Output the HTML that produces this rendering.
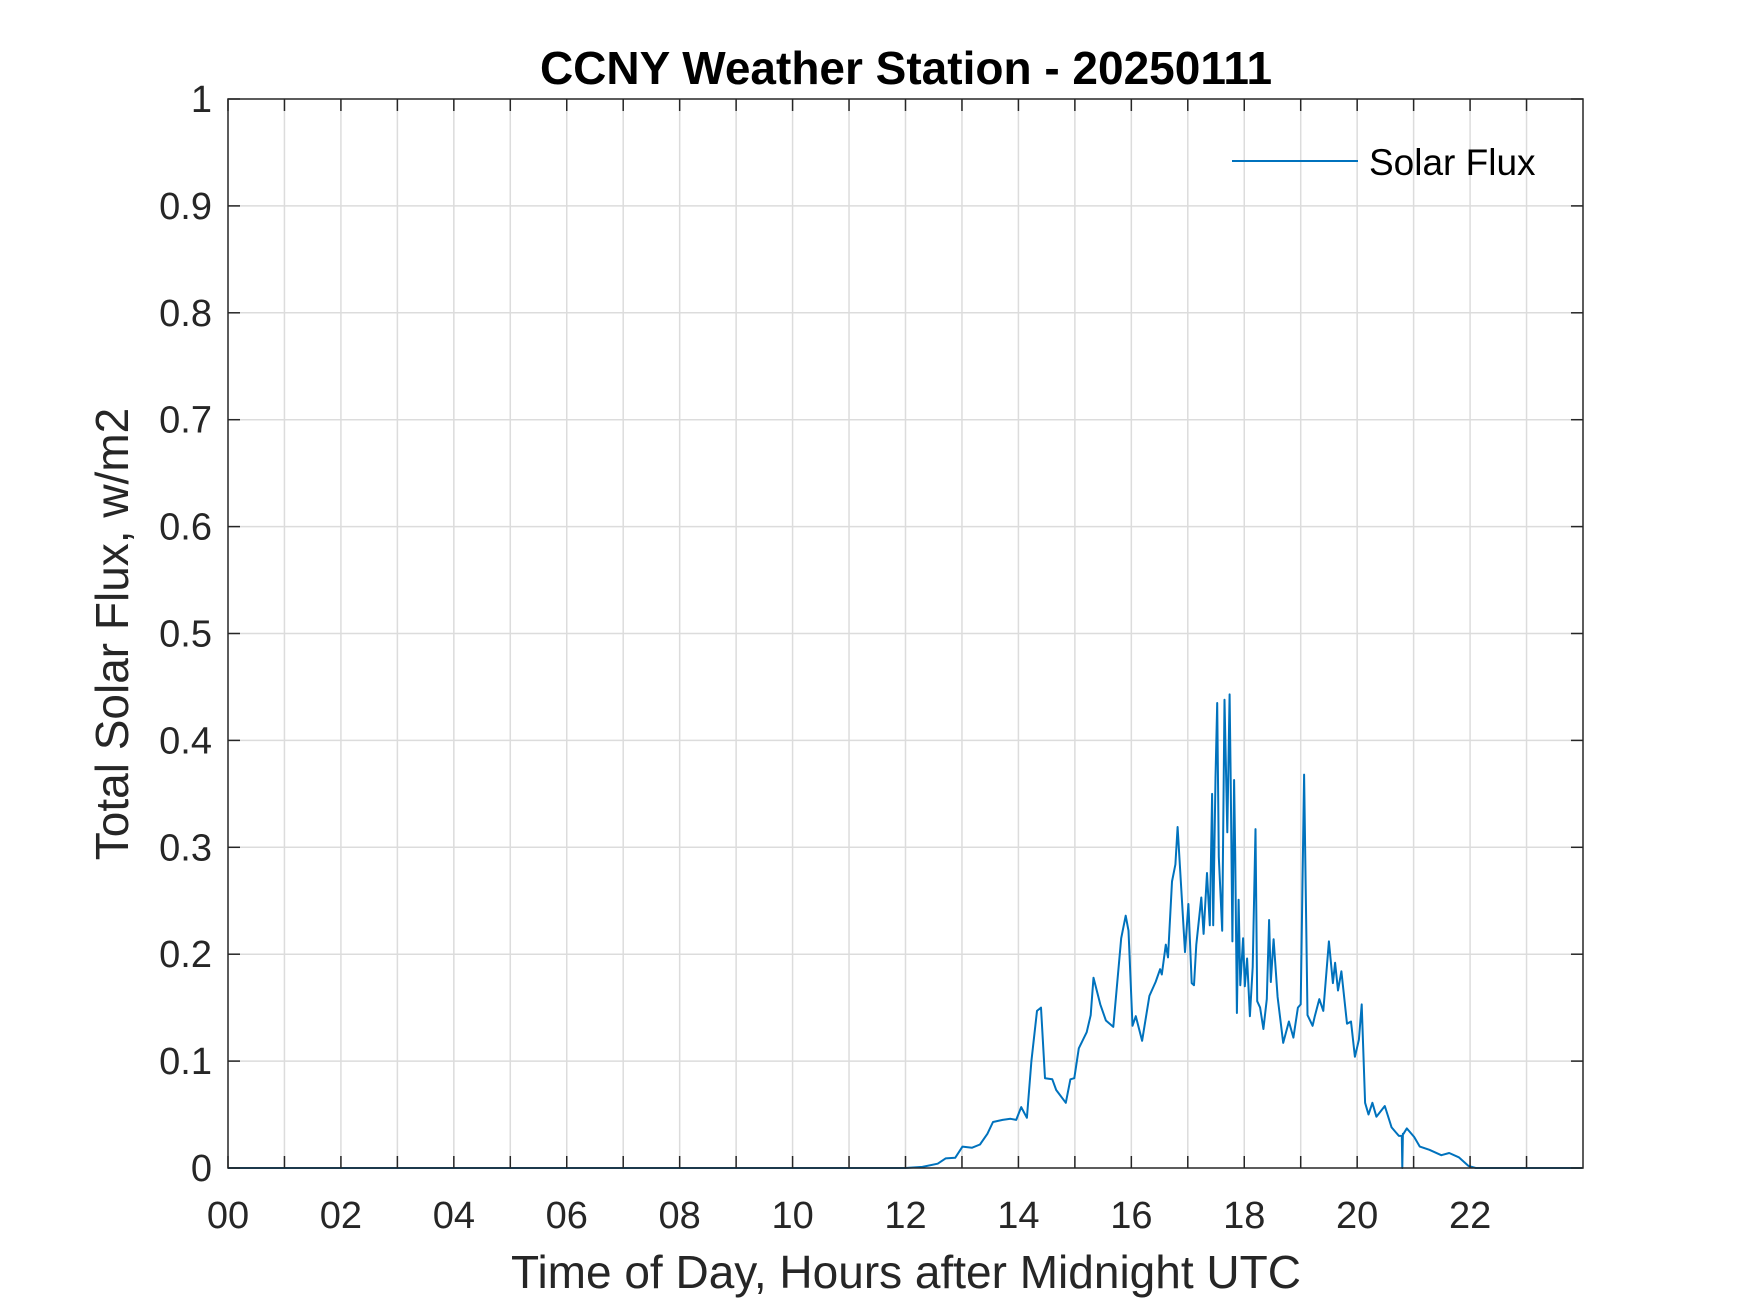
<!DOCTYPE html>
<html><head><meta charset="utf-8"><style>
html,body{margin:0;padding:0;background:#fff;}
svg{display:block;font-family:"Liberation Sans",Arial,sans-serif;}
</style></head><body>
<svg id="chart" width="1750" height="1313" viewBox="0 0 1750 1313" xmlns="http://www.w3.org/2000/svg">
<rect x="0" y="0" width="1750" height="1313" fill="#fff"/>
<g id="grid"></g>
<g id="series"></g>
<g id="axes"></g>
<text x="906" y="84" text-anchor="middle" font-size="46" font-weight="bold" fill="#000">CCNY Weather Station - 20250111</text>
<text x="906" y="1288" text-anchor="middle" font-size="46" fill="#262626">Time of Day, Hours after Midnight UTC</text>
<text transform="translate(128,634) rotate(-90)" text-anchor="middle" font-size="46" fill="#262626">Total Solar Flux, w/m2</text>
<g>
<line x1="1232" y1="161" x2="1358" y2="161" stroke="#0072BD" stroke-width="2"/>
<text x="1369" y="175" font-size="37" fill="#000">Solar Flux</text>
</g>
</svg>
<script>
const hours = [0,12.0,12.3,12.57,12.71,12.88,13.01,13.18,13.32,13.45,13.55,13.72,13.86,13.96,14.05,14.15,14.23,14.33,14.40,14.47,14.60,14.67,14.84,14.92,14.99,15.07,15.21,15.28,15.33,15.45,15.55,15.68,15.82,15.90,15.95,16.02,16.08,16.19,16.32,16.43,16.51,16.54,16.61,16.65,16.72,16.78,16.82,16.90,16.95,17.01,17.07,17.11,17.15,17.24,17.28,17.34,17.39,17.43,17.45,17.49,17.52,17.55,17.61,17.65,17.70,17.74,17.76,17.79,17.82,17.84,17.87,17.90,17.93,17.98,18.01,18.05,18.10,18.15,18.20,18.23,18.28,18.34,18.40,18.44,18.47,18.52,18.59,18.69,18.79,18.87,18.95,19.00,19.06,19.12,19.21,19.25,19.33,19.40,19.50,19.57,19.61,19.66,19.72,19.82,19.89,19.96,20.03,20.08,20.14,20.20,20.27,20.34,20.49,20.61,20.74,20.79,20.80,20.81,20.82,20.88,21.01,21.11,21.28,21.49,21.63,21.80,21.97,22.1,23.98];
const flux = [0,0,0.001,0.004,0.009,0.0095,0.02,0.019,0.022,0.032,0.043,0.045,0.046,0.045,0.057,0.047,0.10,0.147,0.150,0.084,0.083,0.073,0.061,0.083,0.084,0.112,0.127,0.143,0.178,0.153,0.138,0.132,0.215,0.236,0.222,0.133,0.142,0.119,0.161,0.174,0.186,0.181,0.209,0.197,0.268,0.284,0.319,0.248,0.202,0.247,0.173,0.171,0.209,0.253,0.219,0.276,0.227,0.350,0.227,0.365,0.435,0.291,0.222,0.438,0.314,0.443,0.363,0.212,0.363,0.294,0.145,0.251,0.171,0.215,0.170,0.196,0.142,0.188,0.317,0.156,0.150,0.130,0.158,0.232,0.174,0.214,0.160,0.117,0.137,0.122,0.150,0.153,0.368,0.143,0.133,0.142,0.158,0.147,0.212,0.173,0.192,0.166,0.184,0.135,0.137,0.104,0.120,0.153,0.061,0.050,0.061,0.048,0.058,0.038,0.030,0.030,0,0.032,0.032,0.037,0.029,0.020,0.017,0.012,0.014,0.010,0.002,0,0];
const yTicks = [0,0.1,0.2,0.3,0.4,0.5,0.6,0.7,0.8,0.9,1];
const yTickLabels = ["0","0.1","0.2","0.3","0.4","0.5","0.6","0.7","0.8","0.9","1"];
const xTicks = [0,1,2,3,4,5,6,7,8,9,10,11,12,13,14,15,16,17,18,19,20,21,22,23];
const xTickLabels = ["00","","02","","04","","06","","08","","10","","12","","14","","16","","18","","20","","22",""];

const L=228, R=1583, T=99, B=1168;
const xs = h => L + (h/24)*(R-L);
const ys = v => B - v*(B-T);
const NS="http://www.w3.org/2000/svg";
function mk(tag, attrs, parent){const e=document.createElementNS(NS,tag);for(const k in attrs)e.setAttribute(k,attrs[k]);parent.appendChild(e);return e;}
const grid=document.getElementById('grid'), axes=document.getElementById('axes'), series=document.getElementById('series');

xTicks.forEach((t,i)=>{
  const x=xs(t);
  if(t>0){const g=mk('line',{x1:x,y1:T,x2:x,y2:B,stroke:'#dcdcdc','stroke-width':1.5},grid);
  
  }
  const a=mk('line',{x1:x,y1:B,x2:x,y2:B-12,stroke:'#262626','stroke-width':1.5},axes);
  
  
  const b=mk('line',{x1:x,y1:T,x2:x,y2:T+12,stroke:'#262626','stroke-width':1.5},axes);
  
  
  if(xTickLabels[i]){const tx=mk('text',{x:x,y:1228,'text-anchor':'middle','font-size':38,fill:'#262626'},axes);
  tx.textContent=xTickLabels[i];
  
  }
});
yTicks.forEach((t,i)=>{
  const y=ys(t);
  if(t>0&&t<1){const g=mk('line',{x1:L,y1:y,x2:R,y2:y,stroke:'#dcdcdc','stroke-width':1.5},grid);
  
  }
  const a=mk('line',{x1:L,y1:y,x2:L+12,y2:y,stroke:'#262626','stroke-width':1.5},axes);
  
  
  const b=mk('line',{x1:R,y1:y,x2:R-12,y2:y,stroke:'#262626','stroke-width':1.5},axes);
  
  
  const tx=mk('text',{x:212,y:y+13,'text-anchor':'end','font-size':38,fill:'#262626'},axes);
  tx.textContent=yTickLabels[i];
  
  
});
const box=mk('rect',{x:L,y:T,width:R-L,height:B-T,fill:'none',stroke:'#262626','stroke-width':1.5},axes);



const d=hours.map((h,i)=>(i?'L':'M')+xs(h).toFixed(1)+','+ys(flux[i]).toFixed(1)).join(' ');
const p=mk('path',{d:d,fill:'none',stroke:'#0072BD','stroke-width':2,'stroke-linejoin':'round'},series);


</script>
</body></html>
